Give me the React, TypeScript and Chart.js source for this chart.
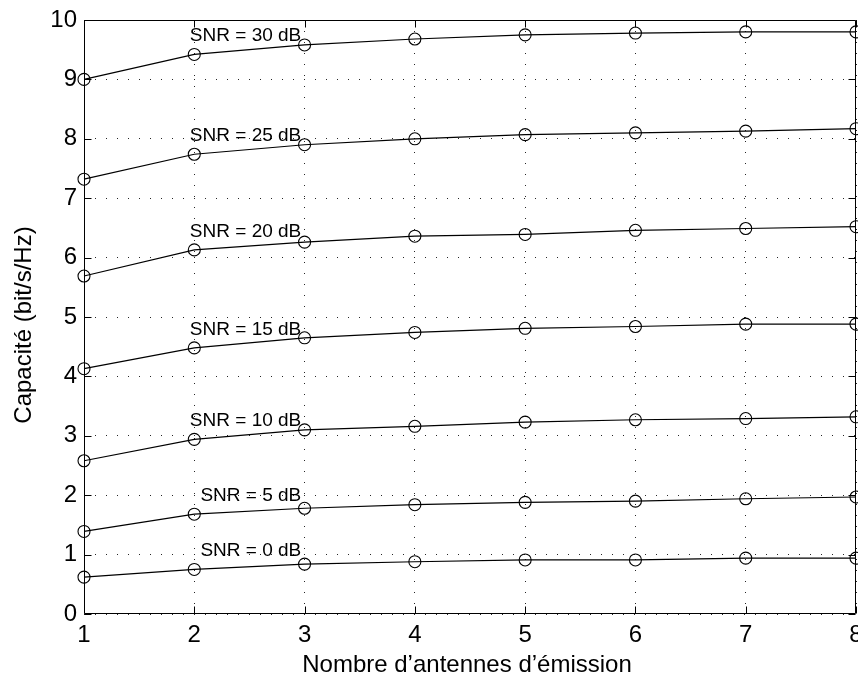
import React, { useEffect, useRef } from "react";
import { Chart, registerables } from "chart.js";

Chart.register(...registerables);

// ---- data ----
const antennas = [1, 2, 3, 4, 5, 6, 7, 8];
const snrLevels = [0, 5, 10, 15, 20, 25, 30];
const cap0 = [0.62, 0.75, 0.84, 0.88, 0.91, 0.91, 0.94, 0.94];
const cap5 = [1.39, 1.68, 1.78, 1.84, 1.88, 1.9, 1.94, 1.97];
const cap10 = [2.58, 2.94, 3.1, 3.16, 3.23, 3.27, 3.29, 3.32];
const cap15 = [4.13, 4.48, 4.65, 4.74, 4.81, 4.84, 4.88, 4.88];
const cap20 = [5.69, 6.13, 6.26, 6.36, 6.39, 6.46, 6.49, 6.52];
const cap25 = [7.32, 7.74, 7.9, 8.0, 8.07, 8.1, 8.13, 8.17];
const cap30 = [9.0, 9.42, 9.58, 9.68, 9.75, 9.78, 9.8, 9.8];
const capacities = [cap0, cap5, cap10, cap15, cap20, cap25, cap30];
const xTitle = "Nombre d\u2019antennes d\u2019\u00e9mission";
const yTitle = "Capacit\u00e9 (bit/s/Hz)";

const FONT = "'Liberation Sans', Arial, Helvetica, sans-serif";

const framePlugin = {
  id: "frame",
  afterDraw(chart: any) {
    const { ctx, chartArea } = chart;
    const { left, right, top, bottom } = chartArea;
    const xs = chart.scales.x;
    const ys = chart.scales.y;
    ctx.save();
    ctx.strokeStyle = "#000";
    ctx.lineWidth = 1;
    const L = Math.round(left) + 0.5;
    const R = Math.round(right) - 0.5;
    const T = Math.round(top) + 0.5;
    const B = Math.round(bottom) - 0.5;
    ctx.beginPath();
    ctx.rect(L, T, R - L, B - T);
    ctx.stroke();
    const tl = 7;
    ctx.beginPath();
    antennas.forEach((v) => {
      const px = Math.round(xs.getPixelForValue(v)) + 0.5;
      ctx.moveTo(px, B);
      ctx.lineTo(px, B - tl);
      ctx.moveTo(px, T);
      ctx.lineTo(px, T + tl);
    });
    for (let v = 0; v <= 10; v++) {
      const py = Math.round(ys.getPixelForValue(v)) + 0.5;
      ctx.moveTo(L, py);
      ctx.lineTo(L + tl, py);
      ctx.moveTo(R, py);
      ctx.lineTo(R - tl, py);
    }
    ctx.stroke();

    // SNR annotations
    ctx.fillStyle = "#000";
    ctx.font = `19px ${FONT}`;
    ctx.textAlign = "right";
    ctx.textBaseline = "alphabetic";
    snrLevels.forEach((snr, i) => {
      const px = xs.getPixelForValue(antennas[1]) + 107;
      const py = ys.getPixelForValue(capacities[i][1]) - 13;
      ctx.fillText(`SNR = ${snr} dB`, px, py);
    });

    // axis titles
    ctx.font = `24px ${FONT}`;
    ctx.textAlign = "center";
    ctx.textBaseline = "alphabetic";
    ctx.fillText(xTitle, (left + right) / 2 - 3, 672);
    ctx.translate(31, (top + bottom) / 2 + 8);
    ctx.rotate(-Math.PI / 2);
    ctx.fillText(yTitle, 0, 0);
    ctx.restore();
  },
};

export default function App() {
  const ref = useRef<HTMLCanvasElement>(null);
  useEffect(() => {
    if (!ref.current) return;
    const datasets = capacities.map((vals, i) => ({
      label: `SNR = ${snrLevels[i]} dB`,
      data: vals.map((y, j) => ({ x: antennas[j], y })),
      showLine: true,
      borderColor: "#000",
      borderWidth: 1.2,
      backgroundColor: "rgba(0,0,0,0)",
      pointStyle: "circle",
      pointRadius: 6,
      pointBorderWidth: 1.1,
      pointBorderColor: "#000",
      pointBackgroundColor: "rgba(0,0,0,0)",
      clip: false,
    }));
    const chart = new Chart(ref.current, {
      type: "scatter",
      data: { datasets },
      plugins: [framePlugin],
      options: {
        animation: false,
        responsive: false,
        devicePixelRatio: 1,
        layout: { autoPadding: false, padding: { top: 20, right: 2, left: 0, bottom: 0 } },
        plugins: { legend: { display: false }, tooltip: { enabled: false } },
        scales: {
          x: {
            type: "linear",
            min: 1,
            max: 8,
            ticks: { stepSize: 1, color: "#000", font: { family: FONT, size: 24 }, padding: 7 },
            grid: { color: "rgba(0,0,0,0.85)", lineWidth: 1, drawTicks: false },
            border: { display: false, dash: [1, 10] },
            afterFit: (s: any) => {
              s.height = 64;
              s.paddingLeft = 0;
              s.paddingRight = 0;
            },
          },
          y: {
            type: "linear",
            min: 0,
            max: 10,
            ticks: { stepSize: 1, color: "#000", font: { family: FONT, size: 24 }, padding: 7 },
            grid: { color: "rgba(0,0,0,0.85)", lineWidth: 1, drawTicks: false },
            border: { display: false, dash: [1, 10] },
            afterFit: (s: any) => {
              s.width = 84;
              s.paddingTop = 0;
              s.paddingBottom = 0;
            },
          },
        },
      },
    } as any);
    return () => chart.destroy();
  }, []);
  return (
    <div style={{ position: "absolute", left: 0, top: 0, width: 858, height: 678, background: "#fff" }}>
      <canvas ref={ref} width={858} height={678} />
    </div>
  );
}
